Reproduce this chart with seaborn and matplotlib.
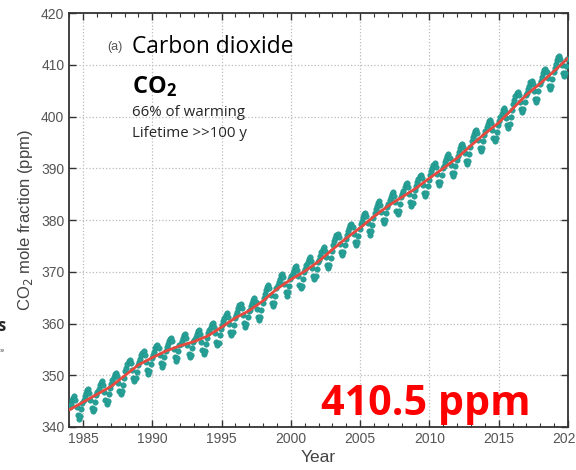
import matplotlib
matplotlib.use("Agg")
import matplotlib.pyplot as plt
from matplotlib.ticker import MultipleLocator
import numpy as np
import pandas as pd
import seaborn as sns

# Monthly global mean CO2 (ppm), one row per year, Jan..Dec
years = list(range(1984, 2020))
monthly_co2 = [
    [343.9, 344.5, 345.2, 345.7, 345.9, 345.2, 343.9, 342.3, 341.6, 342.1, 343.5, 344.7],
    [345.3, 345.9, 346.6, 347.1, 347.3, 346.6, 345.3, 343.7, 343.0, 343.5, 344.9, 346.1],
    [346.8, 347.4, 348.1, 348.6, 348.8, 348.1, 346.8, 345.2, 344.5, 345.0, 346.4, 347.6],
    [348.3, 349.0, 349.6, 350.2, 350.5, 349.8, 348.5, 346.9, 346.3, 346.9, 348.2, 349.5],
    [350.8, 351.5, 352.1, 352.7, 353.0, 352.3, 351.0, 349.4, 348.8, 349.4, 350.7, 352.0],
    [352.6, 353.2, 353.9, 354.4, 354.6, 353.9, 352.6, 351.0, 350.3, 350.8, 352.2, 353.4],
    [353.9, 354.5, 355.2, 355.7, 355.9, 355.2, 353.9, 352.3, 351.6, 352.1, 353.5, 354.7],
    [355.4, 356.0, 356.6, 357.1, 357.3, 356.6, 355.1, 353.5, 352.8, 353.3, 354.6, 355.8],
    [356.1, 356.7, 357.3, 357.8, 358.0, 357.3, 355.8, 354.2, 353.5, 354.0, 355.3, 356.5],
    [356.8, 357.4, 358.0, 358.5, 358.7, 358.0, 356.5, 354.9, 354.2, 354.7, 356.0, 357.2],
    [358.1, 358.7, 359.4, 359.9, 360.1, 359.4, 358.1, 356.5, 355.8, 356.3, 357.7, 358.9],
    [359.8, 360.5, 361.1, 361.7, 362.0, 361.3, 360.0, 358.4, 357.8, 358.4, 359.7, 361.0],
    [361.7, 362.3, 363.0, 363.5, 363.7, 363.0, 361.7, 360.1, 359.4, 359.9, 361.3, 362.5],
    [362.7, 363.4, 364.0, 364.6, 364.9, 364.2, 362.9, 361.3, 360.7, 361.3, 362.6, 363.9],
    [365.0, 365.8, 366.5, 367.1, 367.4, 366.8, 365.5, 364.0, 363.4, 364.0, 365.4, 366.8],
    [367.4, 368.1, 368.7, 369.3, 369.6, 368.9, 367.6, 366.0, 365.4, 366.0, 367.3, 368.6],
    [369.1, 369.7, 370.4, 370.9, 371.1, 370.4, 369.1, 367.5, 366.8, 367.3, 368.7, 369.9],
    [370.6, 371.3, 371.9, 372.5, 372.8, 372.1, 370.8, 369.2, 368.6, 369.2, 370.5, 371.8],
    [372.3, 373.1, 373.8, 374.4, 374.7, 374.1, 372.8, 371.3, 370.7, 371.3, 372.7, 374.1],
    [375.2, 375.9, 376.5, 377.1, 377.4, 376.7, 375.4, 373.8, 373.2, 373.8, 375.1, 376.4],
    [377.1, 377.8, 378.4, 379.0, 379.3, 378.6, 377.3, 375.7, 375.1, 375.7, 377.0, 378.3],
    [379.2, 379.9, 380.5, 381.1, 381.4, 380.7, 379.4, 377.8, 377.2, 377.8, 379.1, 380.4],
    [381.4, 382.1, 382.7, 383.3, 383.6, 382.9, 381.6, 380.0, 379.4, 380.0, 381.3, 382.6],
    [383.2, 383.9, 384.5, 385.1, 385.4, 384.7, 383.4, 381.8, 381.2, 381.8, 383.1, 384.4],
    [385.1, 385.7, 386.4, 386.9, 387.1, 386.4, 385.1, 383.5, 382.8, 383.3, 384.7, 385.9],
    [386.6, 387.3, 387.9, 388.5, 388.8, 388.1, 386.8, 385.2, 384.6, 385.2, 386.5, 387.8],
    [388.8, 389.5, 390.1, 390.7, 391.0, 390.3, 389.0, 387.4, 386.8, 387.4, 388.7, 390.0],
    [390.5, 391.2, 391.8, 392.4, 392.7, 392.0, 390.7, 389.1, 388.5, 389.1, 390.4, 391.7],
    [392.4, 393.2, 393.9, 394.5, 394.8, 394.2, 392.9, 391.4, 390.8, 391.4, 392.8, 394.2],
    [395.3, 396.0, 396.6, 397.2, 397.5, 396.8, 395.5, 393.9, 393.3, 393.9, 395.2, 396.5],
    [397.2, 397.9, 398.5, 399.1, 399.4, 398.7, 397.4, 395.8, 395.2, 395.8, 397.1, 398.4],
    [399.1, 399.9, 400.6, 401.3, 401.6, 401.1, 399.8, 398.4, 397.8, 398.5, 399.9, 401.3],
    [402.4, 403.2, 403.9, 404.5, 404.8, 404.2, 402.9, 401.4, 400.8, 401.4, 402.8, 404.2],
    [404.5, 405.3, 406.0, 406.6, 406.9, 406.3, 405.0, 403.5, 402.9, 403.5, 404.9, 406.3],
    [406.9, 407.7, 408.4, 409.0, 409.3, 408.7, 407.4, 405.9, 405.3, 405.9, 407.3, 408.7],
    [409.4, 410.2, 410.9, 411.5, 411.8, 411.2, 409.9, 408.4, 407.8, 408.4, 409.8, 411.2],
]

# Deseasonalised trend at the start of each year
trend_years = list(range(1984, 2021))
trend_co2 = [343.3, 344.8, 346.3, 347.8, 349.9, 352.0, 353.4, 354.7, 355.7, 356.5,
             357.6, 359.3, 361.1, 362.5, 364.4, 366.7, 368.5, 370.1, 372.0, 374.3,
             376.5, 378.5, 380.7, 382.7, 384.4, 386.1, 388.1, 390.0, 392.0, 394.4,
             396.7, 398.8, 401.5, 404.2, 406.4, 408.8, 411.3]

month_idx = np.arange(12)
df = pd.DataFrame({
    "year": np.repeat(years, 12),
    "month": np.tile(month_idx, len(years)),
    "co2": np.array(monthly_co2).ravel(),
})
df["t"] = df["year"] + (df["month"] + 0.5) / 12
trend = pd.DataFrame({"t": trend_years, "co2": trend_co2})

sns.set_style("ticks")
plt.rcParams["font.family"] = ["Liberation Sans", "DejaVu Sans"]
plt.rcParams["mathtext.fontset"] = "custom"
plt.rcParams["mathtext.bf"] = "Open Sans:bold"
plt.rcParams["mathtext.rm"] = "Open Sans"

fig = plt.figure(figsize=(5.76, 4.70), dpi=100)
ax = fig.add_axes([0.12, 0.0915, 0.866, 0.8805])

sns.scatterplot(data=df, x="t", y="co2", ax=ax, color="#26a096", s=16,
                edgecolor="#1d8f86", linewidth=0.3, zorder=3)
sns.lineplot(data=trend, x="t", y="co2", ax=ax, color="#e8493f", lw=2.0, zorder=4)

ax.set_xlim(1984, 2020)
ax.set_ylim(340, 420)
ax.xaxis.set_major_locator(MultipleLocator(5))
ax.xaxis.set_minor_locator(MultipleLocator(1))
ax.yaxis.set_major_locator(MultipleLocator(10))
ax.tick_params(which="both", direction="in", top=True, right=True, colors="#333333",
               labelcolor="#555555", labelsize=10)
ax.tick_params(which="major", length=5, width=1)
ax.tick_params(which="minor", length=3, width=0.8)
ax.grid(True, which="major", ls=":", color="#bbbbbb", lw=0.9)
for sp in ax.spines.values():
    sp.set_color("#333333")
    sp.set_linewidth(1.3)

ax.set_xlabel("Year", fontsize=12.5, color="#444444", labelpad=3)
ax.set_ylabel("CO$_2$ mole fraction (ppm)", fontsize=12, color="#444444", labelpad=4)
ax.yaxis.label.set_math_fontfamily("dejavusans")

ax.text(0.076, 0.911, "(a)", transform=ax.transAxes, fontsize=9, color="#555555",
        va="baseline")
ax.text(0.126, 0.903, "Carbon dioxide", transform=ax.transAxes, fontsize=16.4,
        family="Open Sans", color="black", va="baseline")
ax.text(0.126, 0.807, r"$\mathbf{CO_2}$", transform=ax.transAxes, fontsize=17,
        color="black", va="baseline")
ax.text(0.126, 0.752, "66% of warming", transform=ax.transAxes, fontsize=10.8,
        family="Open Sans", va="baseline")
ax.text(0.126, 0.701, "Lifetime >>100 y", transform=ax.transAxes, fontsize=10.8,
        family="Open Sans", va="baseline")
ax.text(0.505, 0.029, "410.5 ppm", transform=ax.transAxes, fontsize=29.7,
        family="Open Sans", weight="bold", color="#ff0000", va="baseline")

# fragments of a neighbouring panel cut off at the left edge
fig.text(-0.004, 0.295, "s", fontsize=12, weight="bold", family="Open Sans")
fig.text(-0.004, 0.25, "ice", fontsize=4, family="Open Sans")

fig.savefig("out.png", dpi=100)
